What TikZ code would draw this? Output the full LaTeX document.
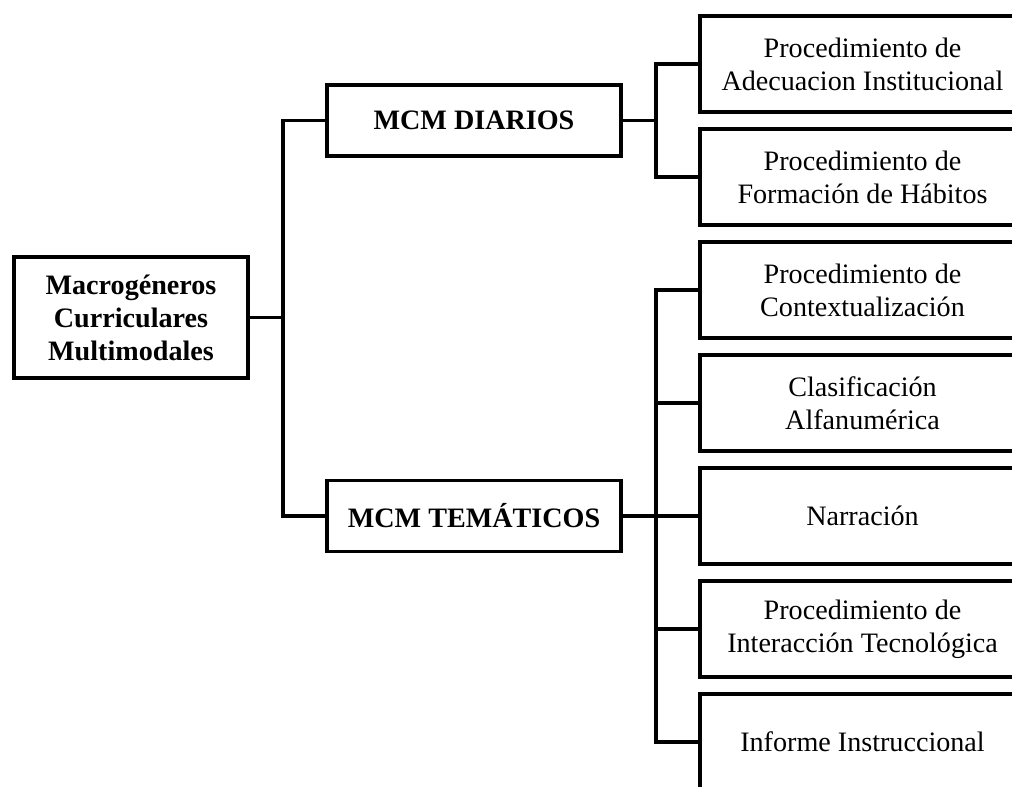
\documentclass[tikz,border=0pt]{standalone}
\usepackage{fontspec}
\setmainfont{Liberation Serif}
\usepackage{tikz}
\usetikzlibrary{positioning}

\begin{document}
\begin{tikzpicture}[x=0.025cm,y=-0.025cm,
  box/.style={draw,line width=2.8pt,align=center,inner sep=0pt,font=\fontsize{20}{23.5}\selectfont},
  rootbox/.style={box,font=\fontsize{20}{23.5}\selectfont\bfseries,minimum width=5.85cm,minimum height=3.025cm},
  mcmbox/.style={box,font=\fontsize{20}{23.5}\selectfont\bfseries,minimum width=7.35cm,minimum height=1.775cm},
  leafbox/.style={box,anchor=west,minimum width=8.125cm,minimum height=2.4cm},
  link/.style={line width=2.8pt}]
\useasboundingbox (0,0) rectangle (1012,787);
\clip (0,0) rectangle (1012,787);
% ---- root and the two groups ----
\node[rootbox] (root) at (131,317.5) {Macrogéneros\\Curriculares\\Multimodales};
\node[mcmbox] (diarios) at (474,120.5) {MCM DIARIOS};
\node[mcmbox] (tematicos) at (474,516) {MCM TEMÁTICOS};
% ---- daily procedures ----
\node[leafbox] (adecuacion) at (698,64) {Procedimiento de\\Adecuacion Institucional};
\node[leafbox] (habitos) at (698,177) {Procedimiento de\\Formación de Hábitos};
% ---- thematic procedures ----
\node[leafbox] (contexto) at (698,290) {Procedimiento de\\Contextualización};
\node[leafbox] (clasif) at (698,403) {Clasificación\\Alfanumérica};
\node[leafbox] (narracion) at (698,516) {Narración};
\node[leafbox] (interaccion) at (698,629) {Procedimiento de\\Interacción Tecnológica};
\node[leafbox] (informe) at (698,742) {Informe Instruccional};
% ---- connectors ----
\draw[link] (root.east) -- ++(33,0) |- (diarios.west);
\draw[link] (root.east) -- ++(33,0) |- (tematicos.west);
\draw[link] (diarios.east) -- ++(33,0) |- (adecuacion.west);
\draw[link] (diarios.east) -- ++(33,0) |- (habitos.west);
\draw[link] (tematicos.east) -- ++(33,0) |- (contexto.west);
\draw[link] (tematicos.east) -- ++(33,0) |- (clasif.west);
\draw[link] (tematicos.east) -- (narracion.west);
\draw[link] (tematicos.east) -- ++(33,0) |- (interaccion.west);
\draw[link] (tematicos.east) -- ++(33,0) |- (informe.west);
\end{tikzpicture}
\end{document}
